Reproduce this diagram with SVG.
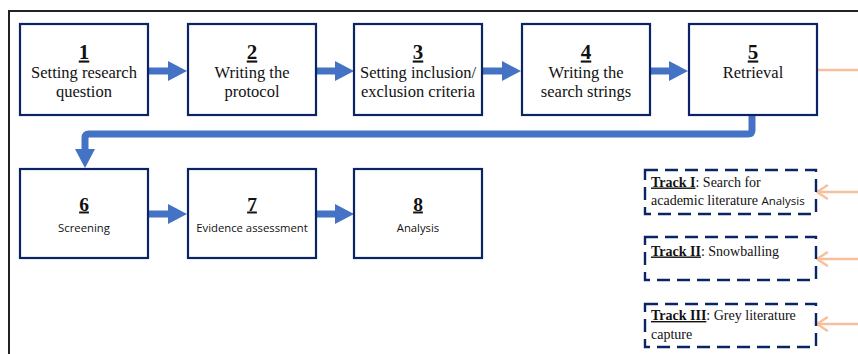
<svg xmlns="http://www.w3.org/2000/svg" width="858" height="354" viewBox="0 0 858 354">
  <style>
    .box { fill: #fff; stroke: #0b2466; stroke-width: 2.2; }
    .track { fill: #fff; stroke: #0b2466; stroke-width: 2.4; stroke-dasharray: 13 7; }
    .flow { fill: none; stroke: #4472c4; stroke-width: 7; stroke-linecap: round; stroke-linejoin: round; }
    .feed { fill: none; stroke: #f6c09c; stroke-width: 2.5; }
    .num { font-family: 'Liberation Serif', 'Times New Roman', serif; font-weight: bold; font-size: 21px; text-decoration: underline; fill: #111; text-anchor: middle; }
    .num2 { font-size: 19.5px; }
    .lbl { font-family: 'Liberation Serif', 'Times New Roman', serif; font-size: 16.5px; fill: #111; text-anchor: middle; }
    .sans { font-family: 'Open Sans', 'Noto Sans', sans-serif; font-size: 11.3px; fill: #111; text-anchor: middle; }
    .tt { font-family: 'Liberation Serif', 'Times New Roman', serif; font-size: 14px; fill: #111; }
    .b { font-weight: bold; text-decoration: underline; }
    .s { font-family: 'Open Sans', 'Noto Sans', sans-serif; font-size: 11.5px; }
  </style>
  <defs>
    <marker id="head" markerUnits="userSpaceOnUse" markerWidth="20" markerHeight="20" refX="0" refY="10" orient="auto">
      <path d="M0,0 L19,10 L0,20 Z" fill="#4472c4"/>
    </marker>
    <marker id="open" markerUnits="userSpaceOnUse" markerWidth="16" markerHeight="16" refX="13" refY="8" orient="auto">
      <path d="M3,1.5 L13,8 L3,14.5" fill="none" stroke="#f6c09c" stroke-width="2.5" stroke-linecap="round" stroke-linejoin="round"/>
    </marker>
  </defs>

  <rect width="858" height="354" fill="#fff"/>
  <!-- outer frame -->
  <rect x="9" y="11" width="900" height="400" fill="none" stroke="#222" stroke-width="2"/>

  <g id="connectors">
    <line class="flow" x1="147" y1="71" x2="168" y2="71" marker-end="url(#head)"/>
    <line class="flow" x1="315" y1="71" x2="335" y2="71" marker-end="url(#head)"/>
    <line class="flow" x1="481" y1="71" x2="502" y2="71" marker-end="url(#head)"/>
    <line class="flow" x1="649" y1="71" x2="669" y2="71" marker-end="url(#head)"/>
    <path class="flow" d="M752,117 L752,130 Q752,134 748,134 L89,134 Q85,134 85,138 L85,149" marker-end="url(#head)"/>
    <line class="flow" x1="147" y1="214" x2="168" y2="214" marker-end="url(#head)"/>
    <line class="flow" x1="315" y1="214" x2="335" y2="214" marker-end="url(#head)"/>
    <line class="feed" x1="817" y1="70" x2="860" y2="70"/>
    <line class="feed" x1="860" y1="192" x2="817" y2="192" marker-end="url(#open)"/>
    <line class="feed" x1="860" y1="259" x2="817" y2="259" marker-end="url(#open)"/>
    <line class="feed" x1="860" y1="324" x2="817" y2="324" marker-end="url(#open)"/>
  </g>

  <g id="n1">
    <rect class="box" x="20" y="24" width="128" height="91"/>
    <text class="num" x="84" y="58.5">1</text>
    <text class="lbl" x="84" y="77.5">Setting research</text>
    <text class="lbl" x="84" y="97">question</text>
  </g>
  <g id="n2">
    <rect class="box" x="188" y="24" width="128" height="91"/>
    <text class="num" x="252" y="58.5">2</text>
    <text class="lbl" x="252" y="77.5">Writing the</text>
    <text class="lbl" x="252" y="97">protocol</text>
  </g>
  <g id="n3">
    <rect class="box" x="354" y="24" width="128" height="91"/>
    <text class="num" x="418" y="58.5">3</text>
    <text class="lbl" x="418" y="77.5">Setting inclusion/</text>
    <text class="lbl" x="418" y="97">exclusion criteria</text>
  </g>
  <g id="n4">
    <rect class="box" x="522" y="24" width="128" height="91"/>
    <text class="num" x="586" y="58.5">4</text>
    <text class="lbl" x="586" y="77.5">Writing the</text>
    <text class="lbl" x="586" y="97">search strings</text>
  </g>
  <g id="n5">
    <rect class="box" x="689" y="24" width="128" height="91"/>
    <text class="num" x="753" y="58.5">5</text>
    <text class="lbl" x="753" y="77.5">Retrieval</text>
  </g>

  <g id="n6">
    <rect class="box" x="20" y="169" width="128" height="89"/>
    <text class="num num2" x="84" y="210.5">6</text>
    <text class="sans" x="84" y="232">Screening</text>
  </g>
  <g id="n7">
    <rect class="box" x="188" y="169" width="128" height="89"/>
    <text class="num num2" x="252" y="210.5">7</text>
    <text class="sans" x="252" y="232">Evidence assessment</text>
  </g>
  <g id="n8">
    <rect class="box" x="354" y="169" width="128" height="89"/>
    <text class="num num2" x="418" y="210.5">8</text>
    <text class="sans" x="418" y="232">Analysis</text>
  </g>

  <g id="track1">
    <rect class="track" x="645" y="170" width="171" height="44"/>
    <text class="tt" x="651" y="186.5"><tspan class="b">Track I</tspan>: Search for</text>
    <text class="tt" x="651" y="205">academic literature <tspan class="s">Analysis</tspan></text>
  </g>
  <g id="track2">
    <rect class="track" x="645" y="237" width="171" height="43"/>
    <text class="tt" x="651" y="255.5"><tspan class="b">Track II</tspan>: Snowballing</text>
  </g>
  <g id="track3">
    <rect class="track" x="645" y="304" width="171" height="43"/>
    <text class="tt" x="651" y="320"><tspan class="b">Track III</tspan>: Grey literature</text>
    <text class="tt" x="651" y="338.5">capture</text>
  </g>
</svg>
